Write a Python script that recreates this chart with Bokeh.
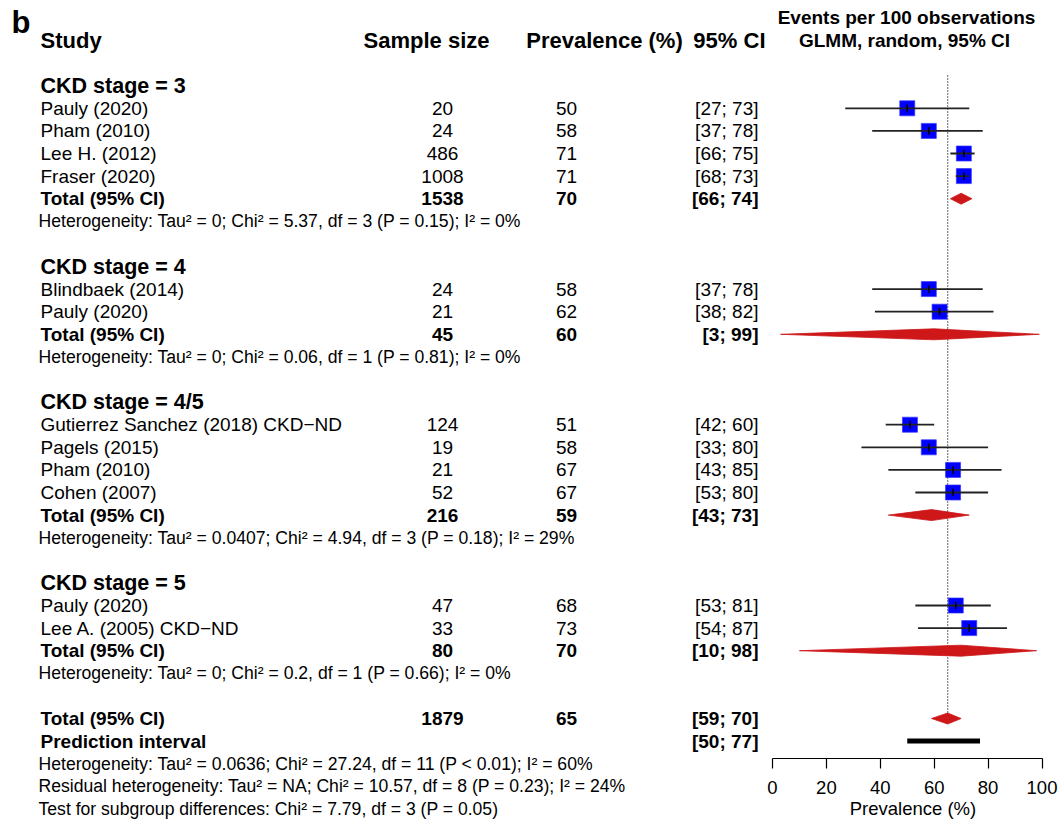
from bokeh.plotting import figure
from bokeh.models import Range1d, LinearAxis, FixedTicker, ColumnDataSource
from bokeh.layouts import row
from bokeh.core.properties import value
from bokeh.embed import file_html
from bokeh.resources import INLINE

FONT = "Liberation Sans"

# ---------------- data ----------------
col_headers = ["Study", "Sample size", "Prevalence (%)", "95% CI"]
right_header = ["Events per 100 observations", "GLMM, random, 95% CI"]

group_labels = ["CKD stage = 3", "CKD stage = 4", "CKD stage = 4/5", "CKD stage = 5"]

s3_study = ["Pauly (2020)", "Pham (2010)", "Lee H. (2012)", "Fraser (2020)"]
s3_n = [20, 24, 486, 1008]
s3_prev = [50, 58, 71, 71]
s3_lo = [27, 37, 66, 68]
s3_hi = [73, 78, 75, 73]

s4_study = ["Blindbaek (2014)", "Pauly (2020)"]
s4_n = [24, 21]
s4_prev = [58, 62]
s4_lo = [37, 38]
s4_hi = [78, 82]

s45_study = ["Gutierrez Sanchez (2018) CKD\u2212ND", "Pagels (2015)", "Pham (2010)", "Cohen (2007)"]
s45_n = [124, 19, 21, 52]
s45_prev = [51, 58, 67, 67]
s45_lo = [42, 33, 43, 53]
s45_hi = [60, 80, 85, 80]

s5_study = ["Pauly (2020)", "Lee A. (2005) CKD\u2212ND"]
s5_n = [47, 33]
s5_prev = [68, 73]
s5_lo = [53, 54]
s5_hi = [81, 87]

sub_total_n = [1538, 45, 216, 80]
sub_total_prev = [70, 60, 59, 70]
sub_total_lo = [66, 3, 43, 10]
sub_total_hi = [74, 99, 73, 98]

sub_het = [
    "Heterogeneity: Tau\u00b2 = 0; Chi\u00b2 = 5.37, df = 3 (P = 0.15); I\u00b2 = 0%",
    "Heterogeneity: Tau\u00b2 = 0; Chi\u00b2 = 0.06, df = 1 (P = 0.81); I\u00b2 = 0%",
    "Heterogeneity: Tau\u00b2 = 0.0407; Chi\u00b2 = 4.94, df = 3 (P = 0.18); I\u00b2 = 29%",
    "Heterogeneity: Tau\u00b2 = 0; Chi\u00b2 = 0.2, df = 1 (P = 0.66); I\u00b2 = 0%",
]

overall_n = 1879
overall_prev = 65
overall_lo = 59
overall_hi = 70
pred_lo = 50
pred_hi = 77
overall_het = [
    "Heterogeneity: Tau\u00b2 = 0.0636; Chi\u00b2 = 27.24, df = 11 (P < 0.01); I\u00b2 = 60%",
    "Residual heterogeneity: Tau\u00b2 = NA; Chi\u00b2 = 10.57, df = 8 (P = 0.23); I\u00b2 = 24%",
    "Test for subgroup differences: Chi\u00b2 = 7.79, df = 3 (P = 0.05)",
]
axis_ticks = [0, 20, 40, 60, 80, 100]
ref_value = 65

groups = [
    (s3_study, s3_n, s3_prev, s3_lo, s3_hi),
    (s4_study, s4_n, s4_prev, s4_lo, s4_hi),
    (s45_study, s45_n, s45_prev, s45_lo, s45_hi),
    (s5_study, s5_n, s5_prev, s5_lo, s5_hi),
]

# ---------------- layout constants (page px) ----------------
Y0 = 40.0      # page y of header row
S = 22.6       # row spacing (px)
LEFT_W = 766
RIGHT_W = 293
H = 824
AXIS_Y = 758
BOTTOM = H - AXIS_Y
ZERO_PX = 772.0   # page x of 0 %
PX_PER = 2.695    # px per %

X_STUDY = 40
X_N = 442
X_PREV = 566
X_CI = 758

# ---------------- build rows ----------------
study_rows, study_names, study_n, study_prev, study_ci = [], [], [], [], []
f_rows, f_est, f_lo, f_hi = [], [], [], []
grp_rows, tot_rows, het_rows = [], [], []
d_rows, d_est, d_lo, d_hi = [], [], [], []

r = 2
for gi, (names, ns, prevs, los, his) in enumerate(groups):
    grp_rows.append(r)
    for j in range(len(names)):
        rr = r + 1 + j
        study_rows.append(rr)
        study_names.append(names[j])
        study_n.append(str(ns[j]))
        study_prev.append(str(prevs[j]))
        study_ci.append("[%d; %d]" % (los[j], his[j]))
        f_rows.append(rr)
        f_est.append(prevs[j])
        f_lo.append(los[j])
        f_hi.append(his[j])
    rt = r + 1 + len(names)
    tot_rows.append(rt)
    d_rows.append(rt)
    d_est.append(sub_total_prev[gi])
    d_lo.append(sub_total_lo[gi])
    d_hi.append(sub_total_hi[gi])
    het_rows.append(rt + 1)
    r = rt + 3

overall_row = r
pred_row = r + 1
ohet_rows = [r + 2, r + 3, r + 4]


def yrow(py):
    return (py - Y0) / S


# ---------------- left (table) figure ----------------
left = figure(width=LEFT_W, height=H, x_range=Range1d(0, LEFT_W),
              y_range=Range1d(yrow(H), yrow(0)),
              x_axis_type=None, y_axis_type=None, toolbar_location=None,
              output_backend="svg", min_border=0)
left.outline_line_color = None
left.grid.visible = False
left.frame_align = False


def txt(p, xs, ys, texts, align="left", size="19px", bold=False, color="black"):
    src = ColumnDataSource(dict(x=xs, y=ys, text=texts))
    p.text(x="x", y="y", text="text", source=src, text_align=align,
           text_baseline="middle", text_font=value(FONT), text_font_size=size,
           text_font_style="bold" if bold else "normal", text_color=color)


# panel letter
txt(left, [11], [yrow(22)], ["b"], size="31px", bold=True)
# headers
txt(left, [X_STUDY], [0], [col_headers[0]], size="22px", bold=True)
txt(left, [426], [0], [col_headers[1]], align="center", size="22px", bold=True)
txt(left, [604], [0], [col_headers[2]], align="center", size="22px", bold=True)
txt(left, [765], [0], [col_headers[3]], align="right", size="22px", bold=True)

# group labels
txt(left, [X_STUDY] * len(grp_rows), grp_rows, group_labels, size="21.5px", bold=True)
# studies
txt(left, [X_STUDY] * len(study_rows), study_rows, study_names)
txt(left, [X_N] * len(study_rows), study_rows, study_n, align="center")
txt(left, [X_PREV] * len(study_rows), study_rows, study_prev, align="center")
txt(left, [X_CI] * len(study_rows), study_rows, study_ci, align="right")
# subgroup totals
tot_rows_all = tot_rows + [overall_row]
txt(left, [X_STUDY] * len(tot_rows_all), tot_rows_all, ["Total (95% CI)"] * len(tot_rows_all), bold=True)
txt(left, [X_N] * len(tot_rows_all), tot_rows_all,
    [str(v) for v in sub_total_n + [overall_n]], align="center", bold=True)
txt(left, [X_PREV] * len(tot_rows_all), tot_rows_all,
    [str(v) for v in sub_total_prev + [overall_prev]], align="center", bold=True)
txt(left, [X_CI] * len(tot_rows_all), tot_rows_all,
    ["[%d; %d]" % (a, b) for a, b in zip(sub_total_lo + [overall_lo], sub_total_hi + [overall_hi])],
    align="right", bold=True)
# prediction interval
txt(left, [X_STUDY], [pred_row], ["Prediction interval"], bold=True)
txt(left, [X_CI], [pred_row], ["[%d; %d]" % (pred_lo, pred_hi)], align="right", bold=True)
# heterogeneity lines
txt(left, [X_STUDY - 2] * len(het_rows), het_rows, sub_het, size="17.6px")
txt(left, [X_STUDY - 2] * len(ohet_rows), ohet_rows, overall_het, size="17.6px")

# ---------------- right (forest) figure ----------------
def px2v(px):
    return (px - ZERO_PX) / PX_PER


x0_page = LEFT_W
right = figure(width=RIGHT_W, height=H,
               x_range=Range1d(px2v(x0_page), px2v(x0_page + RIGHT_W)),
               y_range=Range1d(yrow(AXIS_Y), yrow(0)),
               x_axis_type=None, y_axis_type=None, toolbar_location=None,
               output_backend="svg", min_border_left=0, min_border_right=0,
               min_border_top=0, min_border_bottom=BOTTOM)
right.outline_line_color = None
right.grid.visible = False
right.frame_align = False

# header
txt(right, [px2v(906)], [-1], [right_header[0]], align="center", size="19px", bold=True)
txt(right, [px2v(904)], [0], [right_header[1]], align="center", size="19px", bold=True)

# reference dotted line
right.segment(x0=[ref_value], y0=[1.55], x1=[ref_value], y1=[overall_row - 0.2],
              line_color="black", line_width=1.2, line_dash="1 2")

# squares
sq = ColumnDataSource(dict(x=f_est, y=f_rows, lo=f_lo, hi=f_hi))
right.scatter(x="x", y="y", source=sq, marker="square", size=15,
              fill_color="#0000FF", line_color="#3333FF", line_alpha=0.7)
right.segment(x0="lo", y0="y", x1="hi", y1="y", source=sq, line_color="#222222", line_width=1.8)
tk = ColumnDataSource(dict(x=f_est, y0=[v - 0.17 for v in f_rows], y1=[v + 0.17 for v in f_rows]))
right.segment(x0="x", y0="y0", x1="x", y1="y1", source=tk, line_color="black", line_width=1.5)

# diamonds
HD = 5.5 / S
all_d_rows = d_rows + [overall_row]
all_d_est = d_est + [overall_prev]
all_d_lo = d_lo + [overall_lo]
all_d_hi = d_hi + [overall_hi]
dxs = [[lo, e, hi, e] for lo, e, hi in zip(all_d_lo, all_d_est, all_d_hi)]
dys = [[rr, rr - HD, rr, rr + HD] for rr in all_d_rows]
right.patches(xs=dxs, ys=dys, fill_color="#CD1719", line_color="#CD1719", line_width=0.8)

# prediction interval bar
right.segment(x0=[pred_lo], y0=[pred_row], x1=[pred_hi], y1=[pred_row],
              line_color="black", line_width=5, line_cap="butt")

# axis
ax = LinearAxis(ticker=FixedTicker(ticks=axis_ticks), bounds=(0, 100),
                axis_label="Prevalence (%)")
ax.axis_line_color = "black"
ax.axis_line_width = 1.2
ax.major_tick_line_color = "black"
ax.major_tick_line_width = 1.2
ax.major_tick_in = 0
ax.major_tick_out = 10
ax.minor_tick_line_color = None
ax.major_label_standoff = 12
ax.major_label_text_font = FONT
ax.major_label_text_font_size = "18.5px"
ax.major_label_text_color = "black"
ax.axis_label_standoff = 1
ax.axis_label_text_font = FONT
ax.axis_label_text_font_size = "18.5px"
ax.axis_label_text_font_style = "normal"
ax.axis_label_text_color = "black"
right.add_layout(ax, "below")

layout = row(left, right)
open("out.html", "w").write(file_html(layout, INLINE))
